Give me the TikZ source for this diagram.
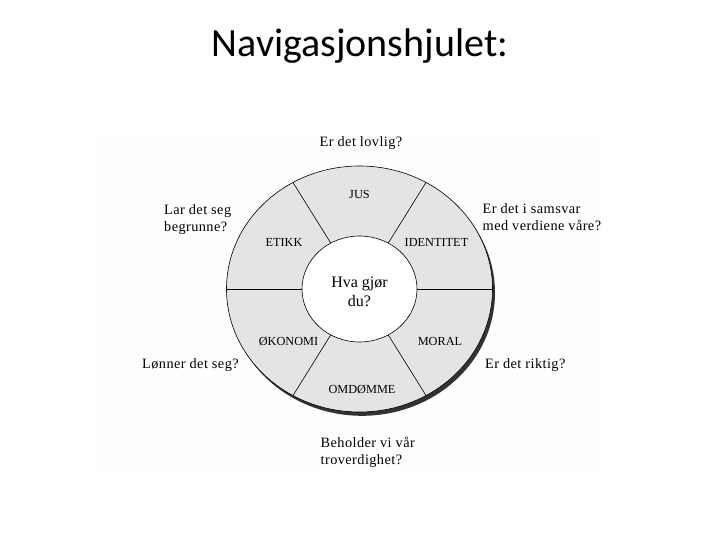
\documentclass[tikz,border=0pt]{standalone}
\usepackage{fontspec}
\setmainfont{Liberation Serif}
\newfontfamily\titlefont{Carlito}
\newfontfamily\qfont[LetterSpace=3]{Liberation Serif}
\definecolor{bgbox}{HTML}{FEFEFE}
\definecolor{wheelfill}{HTML}{E4E4E4}
\definecolor{shadowc}{HTML}{333333}
\begin{document}
\begin{tikzpicture}[x=1pt,y=-1pt,
  question/.style={font=\qfont\fontsize{14.3}{17}\selectfont, align=left, inner sep=0pt},
  sector/.style={font=\fontsize{12.3}{14}\selectfont, inner sep=0pt},
  divider/.style={draw=black, line width=0.6pt}]
\useasboundingbox (0,0) rectangle (720,540);
\fill[bgbox] (94,136) rectangle (602,470);
\node[font=\titlefont\fontsize{40}{48}\selectfont, anchor=base, inner sep=0pt] (title) at (360,57) {Navigasjonshjulet:};
% wheel
\fill[shadowc] (362,292.8) ellipse [x radius=133pt, y radius=123pt];
\draw[fill=wheelfill, line width=0.6pt] (359.5,289) ellipse [x radius=133pt, y radius=123pt];
\foreach \a in {0,60,...,300}
  \draw[divider] ({359.5+57.5*cos(\a)},{289-53*sin(\a)}) -- ({359.5+133*cos(\a)},{289-123*sin(\a)});
\draw[fill=white, line width=0.6pt] (359.5,289) ellipse [x radius=57.5pt, y radius=53pt];
% sector labels
\node[sector] (jus) at (359.5,194) {JUS};
\node[sector] (etikk) at (284,242) {ETIKK};
\node[sector] (identitet) at (436.5,242) {IDENTITET};
\node[sector] (okonomi) at (288.5,341) {ØKONOMI};
\node[sector] (moral) at (440,341) {MORAL};
\node[sector] (omdomme) at (362,389) {OMDØMME};
\node[font=\fontsize{16}{19}\selectfont, align=center, inner sep=0pt] (center) at (359.5,292) {Hva gjør\\du?};
% questions
\node[question, anchor=base] (lovlig) at (361,147) {Er det lovlig?};
\node[question, anchor=base west] (begrunne) at (164,231) {Lar det seg\\begrunne?};
\node[question, anchor=base west] (samsvar) at (482.5,230) {Er det i samsvar\\med verdiene våre?};
\node[question, anchor=base west] (lonner) at (142,368) {Lønner det seg?};
\node[question, anchor=base west] (riktig) at (485,368) {Er det riktig?};
\node[question, anchor=base west] (troverdig) at (320.5,464) {Beholder vi vår\\troverdighet?};
\end{tikzpicture}
\end{document}
